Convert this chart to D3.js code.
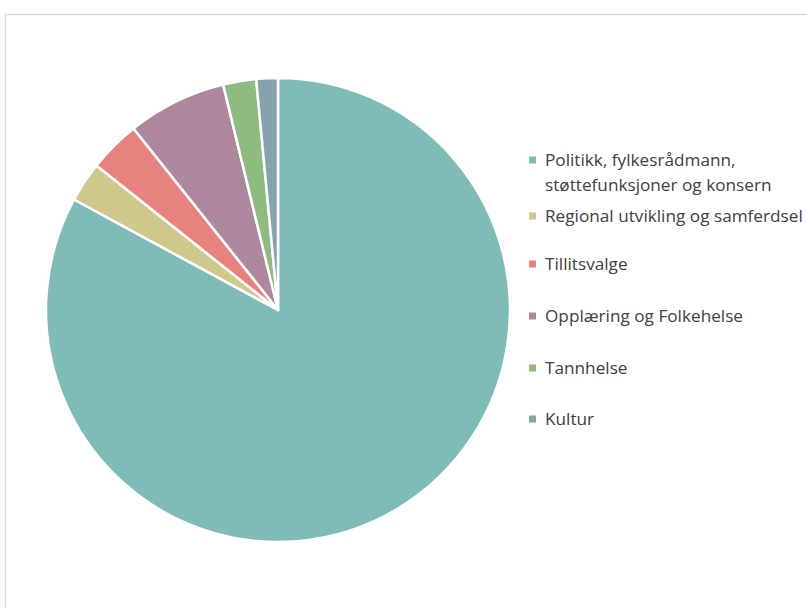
<!DOCTYPE html>
<html>
<head>
<meta charset="utf-8">
<script src="https://cdn.jsdelivr.net/npm/d3@7"></script>
<style>
  html, body { margin: 0; padding: 0; background: #fff; }
  svg { display: block; }
</style>
</head>
<body>
<svg id="chart" width="807" height="608"></svg>
<script>
// Budget share per area (percent)
const categories = [
  ["Politikk, fylkesrådmann,", "støttefunksjoner og konsern"],
  ["Regional utvikling og samferdsel"],
  ["Tillitsvalge"],
  ["Opplæring og Folkehelse"],
  ["Tannhelse"],
  ["Kultur"]
];
const values = [82.9, 2.8, 3.6, 6.9, 2.3, 1.5];
const colors = ["#7fbcb8", "#cec88a", "#e8827f", "#ac879e", "#8ebb80", "#86a2ad"];

const svg = d3.select("#chart");

// chart area frame
svg.append("rect")
  .attr("x", 5.5).attr("y", 14.5)
  .attr("width", 830).attr("height", 630)
  .attr("fill", "none")
  .attr("stroke", "#d9d9d9")
  .attr("stroke-width", 1.5);

const cx = 278, cy = 310, r = 232;

const pie = d3.pie().sort(null).value(d => d)(values);
const arc = d3.arc().innerRadius(0).outerRadius(r);

svg.append("g")
  .attr("transform", `translate(${cx},${cy})`)
  .selectAll("path")
  .data(pie)
  .join("path")
  .attr("d", arc)
  .attr("fill", (d, i) => colors[i])
  .attr("stroke", "#fff")
  .attr("stroke-width", 2.5)
  .attr("stroke-linejoin", "round");

// legend
const legend = svg.append("g");
const rowY = [160, 216, 264, 316, 368, 419];
categories.forEach((lines, i) => {
  const g = legend.append("g").attr("transform", `translate(529,${rowY[i]})`);
  g.append("rect")
    .attr("x", 0).attr("y", -3.5)
    .attr("width", 7).attr("height", 7)
    .attr("fill", colors[i]);
  const t = g.append("text")
    .attr("font-family", "'Open Sans', sans-serif")
    .attr("font-size", 17.2)
    .attr("fill", "#404040");
  lines.forEach((ln, j) => {
    t.append("tspan").attr("x", 16).attr("dy", j === 0 ? "0.35em" : 25).text(ln);
  });
});
</script>
</body>
</html>
